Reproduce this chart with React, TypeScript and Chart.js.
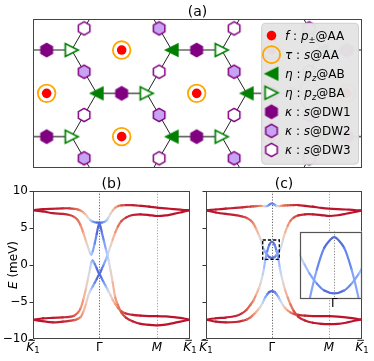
import React, { useEffect, useRef } from 'react';
import { Chart, registerables } from 'chart.js';

Chart.register(...registerables);

const W = 374;
const H = 361;
const FONT = '"DejaVu Sans", "Liberation Sans", sans-serif';

// ---------------- (b), (c): bands along K1 - Γ - M - K1 ----------------
const kPath = [0, 0.15, 0.3, 0.45, 0.55, 0.62, 0.68, 0.72, 0.76, 0.8,
  0.83, 0.86, 0.88, 0.9, 0.93, 0.96, 1.0, 1.04, 1.07, 1.1,
  1.12, 1.14, 1.17, 1.2, 1.24, 1.28, 1.33, 1.4, 1.5, 1.62,
  1.75, 1.866, 2.0, 2.12, 2.22, 2.3, 2.366];

const highSymK = [0, 1, 1.866, 2.366];
const highSymLabels = ['K̄1', 'Γ', 'M', 'K̄1'];
const energyTicks = [-10, -5, 0, 5, 10];

// f-orbital weight along the path (1 = f, 0 = c)
const fWeight = [0.02, 0.02, 0.03, 0.04, 0.06, 0.1, 0.15, 0.2, 0.28, 0.38,
  0.47, 0.57, 0.65, 0.73, 0.83, 0.9, 0.95, 0.9, 0.83, 0.73,
  0.65, 0.57, 0.47, 0.38, 0.28, 0.2, 0.13, 0.07, 0.04, 0.03,
  0.02, 0.02, 0.02, 0.02, 0.02, 0.02, 0.02];
const fWeightTopC = [0.02, 0.02, 0.03, 0.04, 0.05, 0.06, 0.08, 0.1, 0.12, 0.15,
  0.2, 0.27, 0.35, 0.5, 0.72, 0.85, 0.9, 0.85, 0.72, 0.5,
  0.35, 0.27, 0.2, 0.15, 0.12, 0.1, 0.07, 0.05, 0.03, 0.02,
  0.02, 0.02, 0.02, 0.02, 0.02, 0.02, 0.02];

// panel (b) energies (meV)
const bandB1 = [7.4, 7.55, 7.6, 7.66, 7.66, 7.6, 7.48, 7.35, 7.1, 6.75,
  6.4, 6.1, 5.95, 5.86, 5.78, 5.74, 5.72, 5.74, 5.8, 5.95,
  6.15, 6.45, 6.95, 7.35, 7.75, 7.95, 8.05, 8.1, 8.08, 8.0,
  7.9, 7.75, 7.65, 7.55, 7.48, 7.42, 7.4];
const bandB2 = [7.4, 7.25, 7.0, 6.9, 6.75, 6.5, 6.0, 5.3, 4.3, 3.2,
  2.4, 1.6, 1.4, 1.85, 2.9, 4.2, 5.72, 4.3, 3.2, 2.1,
  1.4, 0.6, -0.8, -2.3, -4.4, -5.4, -6.4, -7.1, -7.6, -7.95,
  -8.1, -8.15, -8.05, -7.85, -7.65, -7.5, -7.4];
const bandB3 = [-7.4, -7.2, -7.15, -7.07, -7.0, -6.85, -6.4, -5.8, -4.6, -3.1,
  -1.8, -0.5, 0.35, 0.62, 0.15, -0.45, -1.22, -0.45, 0.15, 0.8,
  1.3, 1.8, 2.6, 3.4, 4.4, 5.2, 5.9, 6.4, 6.75, 6.85,
  6.75, 6.62, 6.7, 6.9, 7.1, 7.28, 7.4];
const bandB4 = [-7.4, -7.6, -7.75, -7.65, -7.55, -7.45, -7.25, -7.0, -6.3, -5.2,
  -4.2, -3.55, -3.2, -2.9, -2.4, -1.9, -1.22, -1.9, -2.4, -2.9,
  -3.25, -3.6, -4.1, -4.7, -5.25, -5.8, -6.25, -6.55, -6.75, -6.85,
  -6.9, -6.9, -6.95, -7.05, -7.15, -7.28, -7.4];

// panel (c) energies (meV)
const bandC1 = [7.38, 7.5, 7.62, 7.72, 7.8, 7.85, 7.9, 7.92, 7.95, 7.97,
  7.98, 7.97, 7.95, 7.92, 7.97, 8.15, 8.32, 8.15, 7.97, 7.94,
  7.97, 8.0, 8.03, 8.05, 8.07, 8.08, 8.1, 8.1, 8.0, 7.88,
  7.72, 7.62, 7.55, 7.5, 7.45, 7.4, 7.38];
const bandC2 = [7.38, 7.1, 6.9, 6.75, 6.55, 6.35, 6.0, 5.6, 4.9, 4.1,
  3.45, 2.5, 2.1, 1.75, 1.35, 1.08, 0.97, 1.08, 1.35, 1.75,
  2.1, 2.5, 3.5, 4.4, 5.3, 5.95, 6.4, 6.7, 6.85, 6.85,
  6.75, 6.62, 6.72, 6.92, 7.1, 7.25, 7.38];
const bandC3 = [-7.38, -7.2, -7.1, -6.9, -6.5, -6.0, -5.3, -4.8, -4.0, -3.2,
  -2.4, -1.3, -0.4, 0.7, 1.9, 2.75, 3.16, 2.75, 1.9, 0.7,
  -0.4, -1.3, -2.4, -3.4, -4.4, -5.3, -6.2, -7.0, -7.5, -7.8,
  -7.95, -8.0, -7.95, -7.8, -7.6, -7.45, -7.38];
const bandC4 = [-7.38, -7.65, -7.75, -7.7, -7.55, -7.35, -7.05, -6.7, -6.35, -5.95,
  -5.55, -5.1, -4.7, -4.35, -3.95, -3.65, -3.52, -3.65, -3.95, -4.35,
  -4.7, -5.0, -5.45, -5.8, -6.15, -6.4, -6.6, -6.75, -6.85, -6.9,
  -6.9, -6.92, -6.98, -7.08, -7.18, -7.3, -7.38];

// zoom window of the inset in (c)
const insetKRange = [0.86, 1.112];
const insetERange = [0.77, 3.38];

// ---------------- (a): lattice sites ----------------
const siteAA = [[0, 0.866], [-1.5, 0], [1.5, 0], [0, -0.866], [3, 0.866], [3, -0.866], [4.5, 0]];
const siteAB = [[-0.5, 0], [1, 0.866], [1, -0.866], [2.5, 0], [4, 0.866], [4, -0.866]];
const siteBA = [[-1, 0.866], [-1, -0.866], [0.5, 0], [2, 0.866], [2, -0.866], [3.5, 0]];
const siteDW1 = [[-1.5, 0.866], [-1.5, -0.866], [0, 0], [1.5, 0.866], [1.5, -0.866], [3, 0], [4.5, 0.866], [4.5, -0.866]];
const siteDW2 = [[-0.75, 0.433], [-0.75, -1.299], [0.75, 1.299], [0.75, -0.433], [2.25, 0.433], [2.25, -1.299], [3.75, 1.299], [3.75, -0.433]];
const siteDW3 = [[-0.75, 1.299], [-0.75, -0.433], [0.75, 0.433], [0.75, -1.299], [2.25, 1.299], [2.25, -0.433], [3.75, 0.433], [3.75, -1.299]];
const bondDirDW1 = [1, 0];
const bondDirDW2 = [0.5, -0.866];
const bondDirDW3 = [0.5, 0.866];
const latticeXRange = [-1.773, 4.806];
const latticeYRange = [-1.493, 1.487];

const legendRows: { marker: string; parts: [string, string][] }[] = [
  { marker: 'f', parts: [['f', 'i'], [' : ', 'n'], ['p', 'i'], ['±', 's'], ['@AA', 'n']] },
  { marker: 'tau', parts: [['τ', 'i'], [' : ', 'n'], ['s', 'i'], ['@AA', 'n']] },
  { marker: 'ab', parts: [['η', 'i'], [' : ', 'n'], ['p', 'i'], ['z', 'si'], ['@AB', 'n']] },
  { marker: 'ba', parts: [['η', 'i'], [' : ', 'n'], ['p', 'i'], ['z', 'si'], ['@BA', 'n']] },
  { marker: 'dw1', parts: [['κ', 'i'], [' : ', 'n'], ['s', 'i'], ['@DW1', 'n']] },
  { marker: 'dw2', parts: [['κ', 'i'], [' : ', 'n'], ['s', 'i'], ['@DW2', 'n']] },
  { marker: 'dw3', parts: [['κ', 'i'], [' : ', 'n'], ['s', 'i'], ['@DW3', 'n']] },
];

// ---------------- helpers ----------------
const coolwarmStops = [
  [59, 76, 192], [98, 130, 234], [141, 176, 254], [184, 208, 249], [221, 221, 221],
  [245, 196, 173], [244, 154, 123], [222, 96, 77], [180, 4, 38],
];
function coolwarm(t: number) {
  const tt = Math.min(1, Math.max(0, t));
  const s = tt * 8;
  const i = Math.min(7, Math.floor(s));
  const f = s - i;
  const a = coolwarmStops[i];
  const b = coolwarmStops[i + 1];
  const c = (j: number) => Math.round(a[j] + (b[j] - a[j]) * f);
  return `rgb(${c(0)},${c(1)},${c(2)})`;
}

function bandDataset(values: number[], weights: number[], clip?: number) {
  const ds: any = {
    data: kPath.map((k, i) => ({ x: k, y: values[i] })),
    showLine: true,
    pointRadius: 0,
    borderWidth: 2.2,
    tension: 0.25,
    borderCapStyle: 'round',
    borderColor: coolwarm(1 - weights[0]),
    segment: {
      borderColor: (ctx: any) => coolwarm(1 - (weights[ctx.p0DataIndex] + weights[ctx.p1DataIndex]) / 2),
    },
  };
  if (clip !== undefined) ds.clip = clip;
  return ds;
}

function drawParts(ctx: CanvasRenderingContext2D, parts: [string, string][], x: number, y: number, size: number) {
  let cx = x;
  ctx.textAlign = 'left';
  ctx.textBaseline = 'alphabetic';
  for (const [t, st] of parts) {
    const sub = st.startsWith('s');
    const it = st.includes('i');
    const fs = sub ? size * 0.7 : size;
    ctx.font = `${it ? 'italic ' : ''}${fs}px ${FONT}`;
    ctx.fillText(t, cx, sub ? y + size * 0.22 : y);
    cx += ctx.measureText(t).width;
  }
  return cx - x;
}

function drawSymLabel(ctx: CanvasRenderingContext2D, lab: string, x: number, y: number) {
  ctx.fillStyle = '#000';
  ctx.textBaseline = 'alphabetic';
  if (lab === 'Γ') {
    ctx.font = `12px ${FONT}`;
    ctx.textAlign = 'center';
    ctx.fillText(lab, x, y);
  } else if (lab === 'M') {
    ctx.font = `italic 12px ${FONT}`;
    ctx.textAlign = 'center';
    ctx.fillText(lab, x, y);
  } else {
    ctx.textAlign = 'left';
    ctx.font = `italic 12px ${FONT}`;
    const wK = ctx.measureText('K').width;
    ctx.font = `8.5px ${FONT}`;
    const w1 = ctx.measureText('1').width;
    const x0 = x - (wK + w1) / 2;
    ctx.font = `italic 12px ${FONT}`;
    ctx.fillText('K', x0, y);
    ctx.font = `8.5px ${FONT}`;
    ctx.fillText('1', x0 + wK, y + 2.6);
    ctx.strokeStyle = '#000';
    ctx.lineWidth = 0.9;
    ctx.beginPath();
    ctx.moveTo(x0 + 2, y - 10.2);
    ctx.lineTo(x0 + wK + 0.8, y - 10.2);
    ctx.stroke();
  }
}

function drawFrame(ctx: CanvasRenderingContext2D, a: any, color = '#444', lw = 1) {
  ctx.save();
  ctx.strokeStyle = color;
  ctx.lineWidth = lw;
  ctx.setLineDash([]);
  const l = Math.round(a.left) + 0.5;
  const t = Math.round(a.top) + 0.5;
  const r = Math.round(a.right) - 0.5;
  const b = Math.round(a.bottom) - 0.5;
  ctx.strokeRect(l, t, r - l, b - t);
  ctx.restore();
}

function makeMarker(draw: (c: CanvasRenderingContext2D) => void, size = 18) {
  const cv = document.createElement('canvas');
  cv.width = size;
  cv.height = size;
  const c = cv.getContext('2d') as CanvasRenderingContext2D;
  c.translate(size / 2, size / 2);
  draw(c);
  return cv;
}
function hexMarker(fill: string) {
  return makeMarker((c) => {
    const r = 6.6;
    c.beginPath();
    for (let i = 0; i < 6; i++) {
      const ang = -Math.PI / 2 + (i * Math.PI) / 3;
      const px = r * Math.cos(ang);
      const py = r * Math.sin(ang);
      if (i === 0) c.moveTo(px, py); else c.lineTo(px, py);
    }
    c.closePath();
    c.fillStyle = fill;
    c.fill();
    c.strokeStyle = '#800080';
    c.lineWidth = 1.5;
    c.stroke();
  });
}
function triMarker(left: boolean) {
  return makeMarker((c) => {
    const r = 6.4;
    c.beginPath();
    if (left) {
      c.moveTo(-r, 0); c.lineTo(r, -r); c.lineTo(r, r);
    } else {
      c.moveTo(r, 0); c.lineTo(-r, -r); c.lineTo(-r, r);
    }
    c.closePath();
    c.fillStyle = left ? '#008000' : '#ffffff';
    c.fill();
    c.strokeStyle = '#008000';
    c.lineWidth = left ? 1.2 : 1.7;
    c.lineJoin = 'miter';
    c.stroke();
  });
}

const toXY = (arr: number[][]) => arr.map(([x, y]) => ({ x, y }));

function bondSegments(sites: number[][], dir: number[]) {
  return sites.map(([x, y]) => [
    { x: x - dir[0] / 2, y: y - dir[1] / 2 },
    { x: x + dir[0] / 2, y: y + dir[1] / 2 },
  ]);
}

function bandYScale(showLabels: boolean) {
  return {
    type: 'linear',
    min: energyTicks[0],
    max: energyTicks[energyTicks.length - 1],
    afterFit: (s: any) => { s.width = 30; },
    afterBuildTicks: (s: any) => { s.ticks = energyTicks.map((v) => ({ value: v })); },
    ticks: {
      display: showLabels,
      font: { family: FONT, size: 12 },
      color: '#000',
      padding: 1.5,
      callback: (v: number) => (v < 0 ? '\u2212' + Math.abs(v) : String(v)),
    },
    grid: { drawOnChartArea: false, drawTicks: true, tickLength: 3.5, tickColor: '#333', tickWidth: 1 },
    border: { display: false },
  };
}

function bandPlugin(title: string, showYLabel: boolean, showBox: boolean) {
  return {
    id: 'bandPanel' + title,
    beforeDatasetsDraw(chart: any) {
      const { ctx, chartArea: a, scales } = chart;
      ctx.save();
      ctx.setLineDash([1.2, 1.6]);
      ctx.lineWidth = 0.9;
      highSymK.forEach((k, i) => {
        if (i === 0 || i === highSymK.length - 1) return;
        const px = Math.round(scales.x.getPixelForValue(k)) + 0.5;
        ctx.strokeStyle = i === 1 ? '#555' : '#9a9a9a';
        ctx.beginPath();
        ctx.moveTo(px, a.top);
        ctx.lineTo(px, a.bottom);
        ctx.stroke();
      });
      ctx.restore();
    },
    afterDraw(chart: any) {
      const { ctx, chartArea: a, scales } = chart;
      drawFrame(ctx, a);
      ctx.save();
      // title
      ctx.fillStyle = '#000';
      ctx.font = `14px ${FONT}`;
      ctx.textAlign = 'center';
      ctx.textBaseline = 'alphabetic';
      ctx.fillText(title, (a.left + a.right) / 2, a.top - 3.5);
      // x labels
      highSymK.forEach((k, i) => {
        drawSymLabel(ctx, highSymLabels[i], scales.x.getPixelForValue(k), a.bottom + 11.5);
      });
      // y label
      if (showYLabel) {
        ctx.save();
        ctx.translate(16.5, (a.top + a.bottom) / 2);
        ctx.rotate(-Math.PI / 2);
        ctx.font = `italic 12px ${FONT}`;
        const wE = ctx.measureText('E').width;
        ctx.font = `12px ${FONT}`;
        const wR = ctx.measureText(' (meV)').width;
        ctx.fillStyle = '#000';
        drawParts(ctx, [['E', 'i'], [' (meV)', 'n']], -(wE + wR) / 2, 0, 12);
        ctx.restore();
      }
      if (showBox) {
        const x0 = scales.x.getPixelForValue(insetKRange[0]);
        const x1 = scales.x.getPixelForValue(insetKRange[1]);
        const y0 = scales.y.getPixelForValue(insetERange[1]);
        const y1 = scales.y.getPixelForValue(insetERange[0]);
        ctx.strokeStyle = '#000';
        ctx.lineWidth = 1.3;
        ctx.setLineDash([3.2, 2]);
        ctx.strokeRect(x0, y0, x1 - x0, y1 - y0);
      }
      ctx.restore();
    },
  };
}

export default function App() {
  const refA = useRef<HTMLCanvasElement>(null);
  const refB = useRef<HTMLCanvasElement>(null);
  const refC = useRef<HTMLCanvasElement>(null);
  const refI = useRef<HTMLCanvasElement>(null);

  useEffect(() => {
    const charts: Chart[] = [];
    const hexDW1 = hexMarker('#800080');
    const hexDW2 = hexMarker('#c9a3f3');
    const hexDW3 = hexMarker('#ffffff');
    const triL = triMarker(true);
    const triR = triMarker(false);

    const common: any = {
      responsive: false,
      maintainAspectRatio: false,
      animation: false,
      devicePixelRatio: 1,
      events: [],
      plugins: { legend: { display: false }, tooltip: { enabled: false } },
    };

    // ----- (a) -----
    const bondSets: any[] = [];
    bondSegments(siteDW1, bondDirDW1).forEach((seg) =>
      bondSets.push({ data: seg, showLine: true, pointRadius: 0, borderColor: '#6a6a6a', borderWidth: 1.6, order: 9 }));
    bondSegments(siteDW2, bondDirDW2).concat(bondSegments(siteDW3, bondDirDW3)).forEach((seg) =>
      bondSets.push({ data: seg, showLine: true, pointRadius: 0, borderColor: '#222', borderWidth: 1, order: 9 }));

    const latticePlugin = {
      id: 'lattice',
      afterDraw(chart: any) {
        const { ctx, chartArea: a } = chart;
        drawFrame(ctx, a);
        ctx.save();
        ctx.fillStyle = '#000';
        ctx.font = `14px ${FONT}`;
        ctx.textAlign = 'center';
        ctx.textBaseline = 'alphabetic';
        ctx.fillText('(a)', (a.left + a.right) / 2, a.top - 3.5);
        // legend
        const lx = 261.7, ly = 23.3, lw = 96.8, lh = 140.9, rr = 3.5;
        ctx.beginPath();
        ctx.moveTo(lx + rr, ly);
        ctx.lineTo(lx + lw - rr, ly);
        ctx.arcTo(lx + lw, ly, lx + lw, ly + rr, rr);
        ctx.lineTo(lx + lw, ly + lh - rr);
        ctx.arcTo(lx + lw, ly + lh, lx + lw - rr, ly + lh, rr);
        ctx.lineTo(lx + rr, ly + lh);
        ctx.arcTo(lx, ly + lh, lx, ly + lh - rr, rr);
        ctx.lineTo(lx, ly + rr);
        ctx.arcTo(lx, ly, lx + rr, ly, rr);
        ctx.closePath();
        ctx.fillStyle = 'rgba(228,228,228,0.97)';
        ctx.fill();
        ctx.strokeStyle = '#d0d0d0';
        ctx.lineWidth = 1;
        ctx.stroke();
        legendRows.forEach((row, i) => {
          const cy = 35.6 + i * 19.05;
          const mx = 271.5;
          if (row.marker === 'f') {
            ctx.beginPath(); ctx.arc(mx, cy, 4.8, 0, Math.PI * 2); ctx.fillStyle = '#ff0000'; ctx.fill();
          } else if (row.marker === 'tau') {
            ctx.beginPath(); ctx.arc(mx, cy, 8.6, 0, Math.PI * 2); ctx.strokeStyle = '#ffa500'; ctx.lineWidth = 1.8; ctx.stroke();
          } else {
            const img = row.marker === 'ab' ? triL : row.marker === 'ba' ? triR : row.marker === 'dw1' ? hexDW1 : row.marker === 'dw2' ? hexDW2 : hexDW3;
            ctx.drawImage(img, mx - img.width / 2, cy - img.height / 2);
          }
          ctx.fillStyle = '#000';
          drawParts(ctx, row.parts, 285, cy + 4.3, 12);
        });
        ctx.restore();
      },
    };

    charts.push(new Chart(refA.current as HTMLCanvasElement, {
      type: 'scatter',
      data: {
        datasets: [
          { data: toXY(siteDW1), pointStyle: hexDW1, pointRadius: 7, order: 1 },
          { data: toXY(siteDW2), pointStyle: hexDW2, pointRadius: 7, order: 1 },
          { data: toXY(siteDW3), pointStyle: hexDW3, pointRadius: 7, order: 1 },
          { data: toXY(siteAB), pointStyle: triL, pointRadius: 7, order: 2 },
          { data: toXY(siteBA), pointStyle: triR, pointRadius: 7, order: 2 },
          { data: toXY(siteAA), pointStyle: 'circle', pointRadius: 8.8, borderWidth: 1.8, borderColor: '#ffa500', backgroundColor: 'rgba(0,0,0,0)', order: 3 },
          { data: toXY(siteAA), pointStyle: 'circle', pointRadius: 4.8, borderWidth: 0, borderColor: '#ff0000', backgroundColor: '#ff0000', order: 3 },
          ...bondSets,
        ] as any,
      },
      options: {
        ...common,
        layout: { padding: { left: 33, right: W - 362, top: 19, bottom: H - 168 }, autoPadding: false },
        scales: {
          x: { type: 'linear', min: latticeXRange[0], max: latticeXRange[1], display: false },
          y: { type: 'linear', min: latticeYRange[0], max: latticeYRange[1], display: false },
        },
      } as any,
      plugins: [latticePlugin],
    }));

    // ----- (b) -----
    charts.push(new Chart(refB.current as HTMLCanvasElement, {
      type: 'scatter',
      data: {
        datasets: [
          bandDataset(bandB4, fWeight), bandDataset(bandB3, fWeight),
          bandDataset(bandB2, fWeight), bandDataset(bandB1, fWeight),
        ],
      },
      options: {
        ...common,
        layout: { padding: { left: 3, right: W - 190, top: 191, bottom: H - 339 }, autoPadding: false },
        scales: {
          x: { type: 'linear', min: highSymK[0], max: highSymK[highSymK.length - 1], display: false },
          y: bandYScale(true),
        },
      } as any,
      plugins: [bandPlugin('(b)', true, false)],
    }));

    // ----- (c) -----
    charts.push(new Chart(refC.current as HTMLCanvasElement, {
      type: 'scatter',
      data: {
        datasets: [
          bandDataset(bandC4, fWeight), bandDataset(bandC3, fWeight),
          bandDataset(bandC2, fWeight), bandDataset(bandC1, fWeightTopC),
        ],
      },
      options: {
        ...common,
        layout: { padding: { left: 176, right: W - 362, top: 191, bottom: H - 339 }, autoPadding: false },
        scales: {
          x: { type: 'linear', min: highSymK[0], max: highSymK[highSymK.length - 1], display: false },
          y: bandYScale(false),
        },
      } as any,
      plugins: [bandPlugin('(c)', false, true)],
    }));

    // ----- inset of (c) -----
    const insetPlugin = {
      id: 'inset',
      beforeDraw(chart: any) {
        const { ctx, chartArea: a } = chart;
        ctx.save();
        ctx.fillStyle = '#ffffff';
        ctx.fillRect(a.left, a.top, a.right - a.left, a.bottom - a.top);
        ctx.restore();
      },
      beforeDatasetsDraw(chart: any) {
        const { ctx, chartArea: a, scales } = chart;
        ctx.save();
        ctx.setLineDash([1.2, 1.6]);
        ctx.lineWidth = 0.9;
        ctx.strokeStyle = '#777';
        const px = Math.round(scales.x.getPixelForValue(highSymK[1])) + 0.5;
        ctx.beginPath();
        ctx.moveTo(px, a.top);
        ctx.lineTo(px, a.bottom);
        ctx.stroke();
        ctx.restore();
      },
      afterDraw(chart: any) {
        const { ctx, chartArea: a, scales } = chart;
        drawFrame(ctx, a, '#555', 1.2);
        ctx.save();
        drawSymLabel(ctx, highSymLabels[1], scales.x.getPixelForValue(highSymK[1]), a.bottom + 8.5);
        ctx.restore();
      },
    };
    charts.push(new Chart(refI.current as HTMLCanvasElement, {
      type: 'scatter',
      data: {
        datasets: [
          bandDataset(bandC4, fWeight, 0), bandDataset(bandC3, fWeight, 0),
          bandDataset(bandC2, fWeight, 0), bandDataset(bandC1, fWeightTopC, 0),
        ],
      },
      options: {
        ...common,
        layout: { padding: { left: 299.5, right: W - 362, top: 231.5, bottom: H - 298.5 }, autoPadding: false },
        scales: {
          x: { type: 'linear', min: insetKRange[0], max: insetKRange[1], display: false },
          y: { type: 'linear', min: insetERange[0], max: insetERange[1], display: false },
        },
      } as any,
      plugins: [insetPlugin],
    }));

    return () => charts.forEach((c) => c.destroy());
  }, []);

  const cs: React.CSSProperties = { position: 'absolute', left: 0, top: 0, width: W, height: H };
  return (
    <div style={{ position: 'fixed', left: 0, top: 0, width: W, height: H, background: '#ffffff', overflow: 'hidden' }}>
      <canvas ref={refA} width={W} height={H} style={cs} />
      <canvas ref={refB} width={W} height={H} style={cs} />
      <canvas ref={refC} width={W} height={H} style={cs} />
      <canvas ref={refI} width={W} height={H} style={cs} />
    </div>
  );
}
